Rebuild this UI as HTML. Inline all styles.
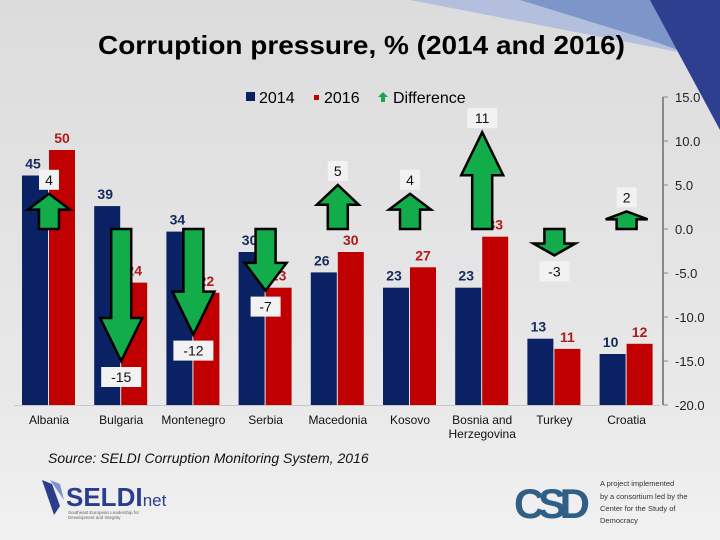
<!DOCTYPE html>
<html><head><meta charset="utf-8"><style>
body{margin:0;width:720px;height:540px;overflow:hidden;background:#eeeeef}
svg{display:block;font-family:"Liberation Sans",Arial,sans-serif}
</style></head><body>
<svg id="chart" width="720" height="540" viewBox="0 0 720 540">
<defs><linearGradient id="bg" x1="0" y1="0" x2="0" y2="1"><stop offset="0" stop-color="#dcdcdd"/><stop offset="0.75" stop-color="#e9e9ea"/><stop offset="1" stop-color="#f1f1f2"/></linearGradient></defs>
<rect width="720" height="540" fill="url(#bg)"/>
<g>
<polygon points="410,0 720,0 720,60" fill="#a9b8dc" opacity="0.8"/>
<polygon points="520,0 720,0 720,65 650,40" fill="#6f8cc6" opacity="0.8"/>
<polygon points="650,0 720,0 720,130" fill="#2e3f8f"/>
</g>
<text x="98" y="54" font-size="26" font-weight="bold" textLength="527" lengthAdjust="spacingAndGlyphs" fill="#000">Corruption pressure, % (2014 and 2016)</text>
<g>
<g><rect x="246" y="92" width="9" height="9" fill="#0a2164"/><text x="259" y="103" font-size="16">2014</text></g>
<g><rect x="314" y="95" width="5" height="5" fill="#c00000"/><text x="324" y="103" font-size="16">2016</text></g>
<g><polygon points="383,92 388,97 385,97 385,102 381,102 381,97 378,97" fill="#1aa54f"/><text x="393" y="103" font-size="16">Difference</text></g>
</g>
<g id="plot"></g>
<text x="48" y="463" font-size="14" font-style="italic" fill="#111">Source: SELDI Corruption Monitoring System, 2016</text>
<g>
<polygon points="42,480 52,484 60,506 54,515" fill="#2b3d8c"/><polygon points="50,480 60,484 64,500" fill="#7d93c9"/>
<text x="66" y="506" font-size="26" fill="#2b3d8c" font-weight="bold">SELDI</text><text x="138" y="506" font-size="17" fill="#2b3d8c">.net</text>
<text x="68" y="514" font-size="4.5" fill="#666">Southeast European Leadership for</text><text x="68" y="519" font-size="4.5" fill="#666">Development and Integrity</text>
</g>
<g>
<text x="514" y="518" font-size="42" font-weight="bold" fill="#2f5f86" textLength="76">CSD</text>
<text x="600" y="486" font-size="7.5" fill="#333">A project implemented</text>
<text x="600" y="499" font-size="7.5" fill="#333">by a consortium led by the</text>
<text x="600" y="511" font-size="7.5" fill="#333">Center for the Study of</text>
<text x="600" y="523" font-size="7.5" fill="#333">Democracy</text>
</g>
</svg>
<script>
const categories=["Albania","Bulgaria","Montenegro","Serbia","Macedonia","Kosovo","Bosnia and|Herzegovina","Turkey","Croatia"];
const values2014=[45,39,34,30,26,23,23,13,10];
const values2016=[50,24,22,23,30,27,33,11,12];
const differences=[4,-15,-12,-7,5,4,11,-3,2];
const rightTicks=[15,10,5,0,-5,-10,-15,-20];
const NS="http://www.w3.org/2000/svg";
const plot=document.getElementById('plot');
function mk(t,a,p){const e=document.createElementNS(NS,t);for(const k in a)e.setAttribute(k,a[k]);(p||plot).appendChild(e);return e;}
const baseY=405;
function yBar(v){return baseY-v*5.1;}
function yDiff(v){return 405-(v+20)*8.8;}
function xCat(i){return 49+i*72.2;}
const ax=mk('line',{x1:663,y1:yDiff(15),x2:663,y2:yDiff(-20),stroke:'#888','stroke-width':2});


const bl=mk('line',{x1:14,y1:baseY+0.5,x2:660,y2:baseY+0.5,stroke:'#c8c8c8','stroke-width':1});


rightTicks.forEach(t=>{
  const y=yDiff(t);
  mk('line',{x1:663,y1:y,x2:668,y2:y,stroke:'#888'});
  const tx=mk('text',{x:675,y:y+5,'font-size':13,fill:'#222'});
  tx.textContent=t.toFixed(1);
  
  
});
categories.forEach((c,i)=>{
  const cx=xCat(i);
  const b=mk('rect',{x:cx-27,y:yBar(values2014[i]),width:26,height:baseY-yBar(values2014[i]),fill:'#0a2164'});
  
  
  const r=mk('rect',{x:cx,y:yBar(values2016[i]),width:26,height:baseY-yBar(values2016[i]),fill:'#c00000'});
  
  
  const l1=mk('text',{x:cx-16,y:yBar(values2014[i])-7,'font-size':14,'font-weight':'bold',fill:'#142a5e','text-anchor':'middle'});
  l1.textContent=values2014[i];
  
  
  const l2=mk('text',{x:cx+13,y:yBar(values2016[i])-7,'font-size':14,'font-weight':'bold',fill:'#b01a1a','text-anchor':'middle'});
  l2.textContent=values2016[i];
  
  
  const parts=c.split('|');
  parts.forEach((p,k)=>{
    const t=mk('text',{x:cx,y:424+k*14,'font-size':12,fill:'#111','text-anchor':'middle'});
    t.textContent=p;
    
    
  });
  const d=differences[i], y0=yDiff(0), y1=yDiff(d), len=Math.abs(y1-y0), s=d>=0?-1:1;
  const hl=Math.min(43,len*0.45), yh=y1-s*hl;
  const pts=[[cx-10,y0],[cx-10,yh],[cx-21,yh],[cx,y1],[cx+21,yh],[cx+10,yh],[cx+10,y0]].map(p=>p.join(',')).join(' ');
  const a=mk('polygon',{points:pts,fill:'#12ad4a',stroke:'#000','stroke-width':2.5,'stroke-linejoin':'miter'});
  
  
  const ly=d>=0?y1-14:y1+16;
  mk('rect',{x:cx-(String(d).length*5+5),y:ly-10,width:String(d).length*10+10,height:20,fill:'#f2f2f2'});
  const dl=mk('text',{x:cx,y:ly+5,'font-size':14,fill:'#111','text-anchor':'middle'});
  dl.textContent=d;
  
  
});
</script>
</body></html>
